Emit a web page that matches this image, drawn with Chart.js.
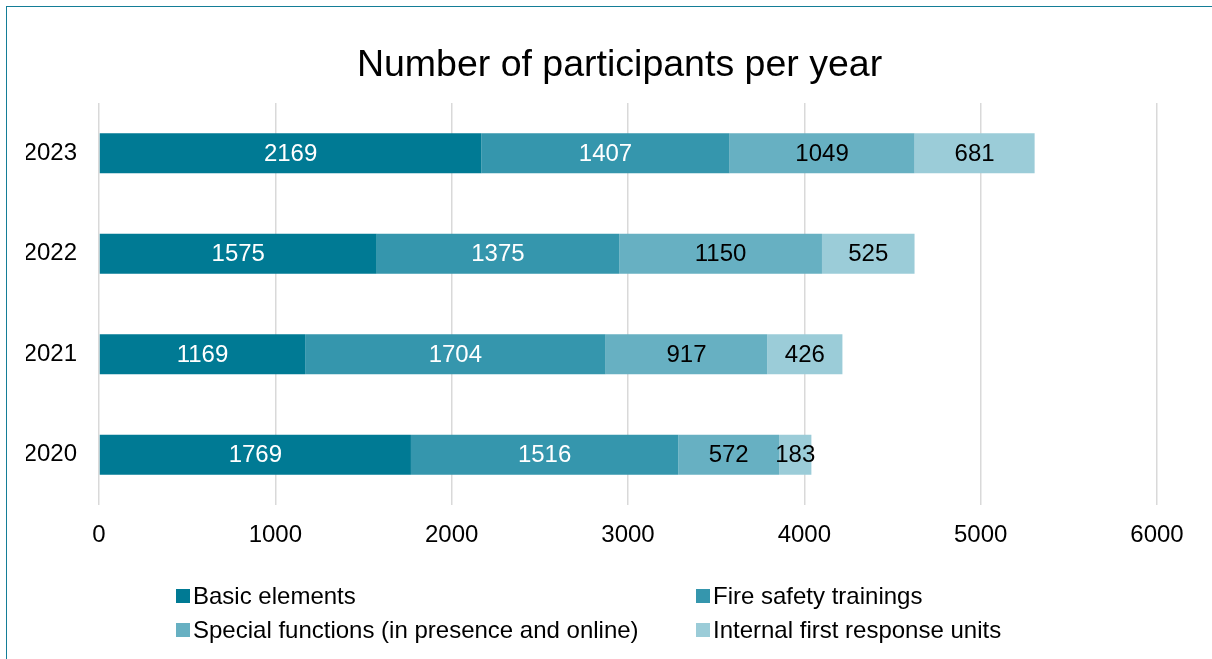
<!DOCTYPE html>
<html>
<head>
<meta charset="utf-8">
<script src="https://cdn.jsdelivr.net/npm/chart.js@4.4.1/dist/chart.umd.min.js"></script>
<style>
  html, body { margin: 0; padding: 0; background: #fff; overflow: hidden; }
  #wrap { position: relative; width: 1212px; height: 659px; }
  #frame { position: absolute; left: 6px; top: 6px; width: 1300px; height: 700px;
           border-left: 1.5px solid #147D97; border-top: 1.5px solid #147D97; box-sizing: border-box; pointer-events: none; }
  canvas { position: absolute; left: 0; top: 0; }
  .leg { position: absolute; font-family: "Liberation Sans", Arial, sans-serif; font-size: 24px; color: #000;
         white-space: nowrap; line-height: 28px; }
  .leg span.box { display: inline-block; width: 14px; height: 14px; margin-right: 3px; vertical-align: 1px; }
</style>
</head>
<body>
<div id="wrap">
  <canvas id="c" width="1212" height="659"></canvas>
  <div id="frame"></div>
  <div id="legend"></div>
</div>
<script>
const categories = ['2023', '2022', '2021', '2020'];
const seriesNames = ['Basic elements', 'Fire safety trainings', 'Special functions (in presence and online)', 'Internal first response units'];
const basicElements = [2169, 1575, 1169, 1769];
const fireSafety = [1407, 1375, 1704, 1516];
const specialFunctions = [1049, 1150, 917, 572];
const internalUnits = [681, 525, 426, 183];
const xTicks = [0, 1000, 2000, 3000, 4000, 5000, 6000];

const colors = ['#007A94', '#3596AD', '#67B0C2', '#9BCCD8'];
const labelColors = ['#ffffff', '#ffffff', '#000000', '#000000'];
const FONT = '"Liberation Sans", Arial, sans-serif';

const valueLabels = {
  id: 'valueLabels',
  afterDatasetsDraw(chart) {
    const ctx = chart.ctx;
    ctx.save();
    ctx.font = '24px ' + FONT;
    ctx.textAlign = 'center';
    ctx.textBaseline = 'middle';
    chart.data.datasets.forEach((ds, di) => {
      const meta = chart.getDatasetMeta(di);
      meta.data.forEach((el, i) => {
        const p = el.getProps(['x', 'y', 'base'], true);
        const cx = (p.x + p.base) / 2;
        ctx.fillStyle = labelColors[di];
        ctx.fillText(String(ds.data[i]), cx, p.y + 1);
      });
    });
    ctx.restore();
  }
};

// shift the title so it is centred like the reference (slightly right of the plot centre)
const titleShift = {
  id: 'titleShift',
  afterLayout(chart) {
    const t = chart.titleBlock;
    if (t) { t.left += 28; t.right += 28; }
  }
};

const datasets = [basicElements, fireSafety, specialFunctions, internalUnits].map((d, i) => ({
  label: seriesNames[i],
  data: d,
  backgroundColor: colors[i],
  borderWidth: 0,
  barPercentage: 0.4,
  categoryPercentage: 1.0
}));

new Chart(document.getElementById('c'), {
  type: 'bar',
  data: { labels: categories, datasets },
  plugins: [valueLabels, titleShift],
  options: {
    indexAxis: 'y',
    responsive: false,
    animation: false,
    layout: { padding: { left: 26, right: 55, top: 0, bottom: 104 } },
    plugins: {
      legend: { display: false },
      tooltip: { enabled: false },
      title: {
        display: true,
        text: 'Number of participants per year',
        color: '#000',
        font: { family: FONT, size: 37.5, weight: 'normal', lineHeight: 1.2 },
        padding: { top: 43, bottom: 15 }
      }
    },
    scales: {
      x: {
        stacked: true,
        min: 0, max: 6000,
        afterBuildTicks(scale) { scale.ticks = xTicks.map(v => ({ value: v })); },
        afterFit(scale) { scale.height = 50; },
        grid: { color: '#D9D9D9', lineWidth: 1.5, drawTicks: false },
        border: { display: false },
        ticks: { color: '#000', font: { family: FONT, size: 24 }, padding: 16, maxRotation: 0,
                 callback: (v) => String(v) }
      },
      y: {
        stacked: true,
        afterFit(scale) { scale.width = 73; },
        grid: { display: false, drawTicks: false },
        border: { display: false },
        ticks: { color: '#000', font: { family: FONT, size: 24 }, padding: 22 }
      }
    }
  }
});

// HTML legend built from series names and colours
const legendPos = [[176, 582], [696, 582], [176, 616], [696, 616]];
const legendEl = document.getElementById('legend');
seriesNames.forEach((name, i) => {
  const d = document.createElement('div');
  d.className = 'leg';
  d.style.left = legendPos[i][0] + 'px';
  d.style.top = legendPos[i][1] + 'px';
  const b = document.createElement('span');
  b.className = 'box';
  b.style.background = colors[i];
  d.appendChild(b);
  d.appendChild(document.createTextNode(name));
  legendEl.appendChild(d);
});
</script>
</body>
</html>
